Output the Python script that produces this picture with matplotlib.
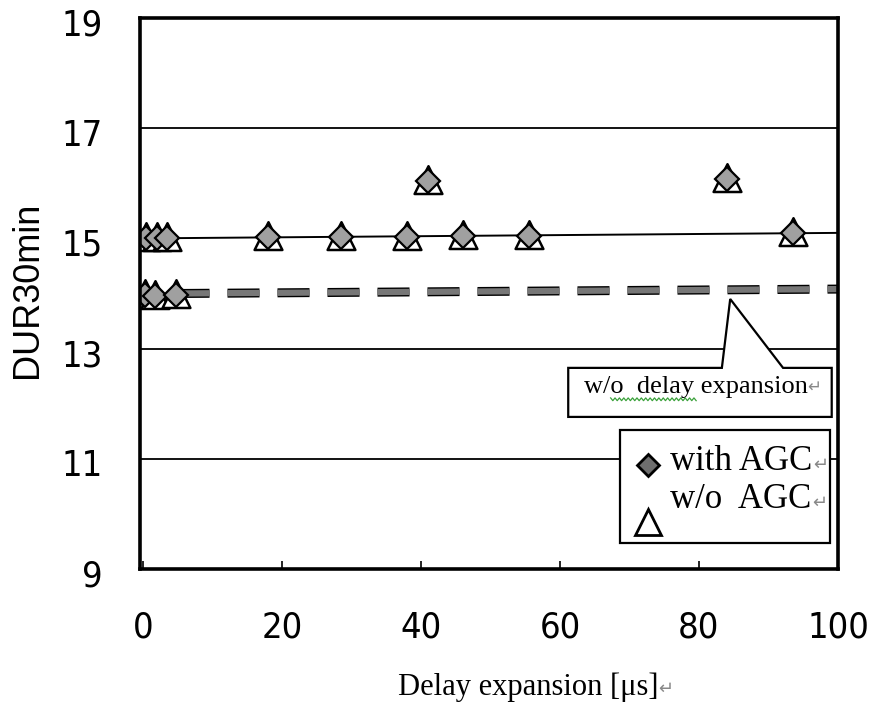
import matplotlib
matplotlib.use("Agg")
import matplotlib.pyplot as plt
import matplotlib.patheffects as pe
import matplotlib.transforms as mtransforms
from matplotlib.patches import Polygon, Rectangle
from matplotlib.path import Path
import numpy as np

# Delay expansion [us] and DUR30min values
delay_agc = [0.5, 2.0, 3.5, 18.0, 28.5, 38.0, 41.0, 46.0, 55.5, 84.0, 93.5]
dur_agc = [15.0, 15.0, 15.0, 15.02, 15.02, 15.03, 16.05, 15.04, 15.05, 16.08, 15.1]
delay_noagc = [0.5, 2.0, 3.5, 18.0, 28.5, 38.0, 41.0, 46.0, 55.5, 84.0, 93.5]
dur_noagc = [15.0, 15.0, 15.0, 15.02, 15.02, 15.03, 16.05, 15.04, 15.05, 16.08, 15.1]

# reference condition without delay expansion
delay_ref = [0.3, 1.8, 4.8]
dur_ref = [13.97, 13.95, 13.97]
ref_line_x = [5.0, 100.0]
ref_line_y = [14.0, 14.08]

# trend of the AGC series
trend_x = [0.0, 100.0]
trend_y = [15.0, 15.1]

xticks = [0, 20, 40, 60, 80, 100]
yticks = [9, 11, 13, 15, 17, 19]
grid_y = [11, 13, 17]

SANS = ["DejaVu Sans"]
SERIF = ["Liberation Serif", "DejaVu Serif", "DejaVu Sans"]

# triangle marker whose apex sits a little higher than a centred one
tri_marker = Path([(0, 1.1), (-1, -0.9), (1, -0.9), (0, 1.1)],
                  [Path.MOVETO, Path.LINETO, Path.LINETO, Path.CLOSEPOLY])

fig = plt.figure(figsize=(8.77, 7.05), dpi=100)
ax = fig.add_axes([0.1596, 0.1929, 0.9555 - 0.1596, 0.9745 - 0.1929])
ax.set_xlim(-0.4, 99.3)
ax.set_ylim(9, 19)

for g in grid_y:
    ax.axhline(g, color="black", lw=1.3, zorder=1)

ax.plot(trend_x, trend_y, color="black", lw=1.4, zorder=2)

ax.plot(ref_line_x, ref_line_y, color="#777777", lw=4.5, dashes=(32 / 4.5 * 0.72, 18 / 4.5 * 0.72),
        solid_capstyle="butt", zorder=2,
        path_effects=[pe.Stroke(linewidth=6.5, foreground="black"), pe.Normal()])

tri_kw = dict(marker=tri_marker, ms=22, mfc="white", mec="black", mew=1.8, ls="none", zorder=4)
dia_kw = dict(marker="D", ms=12, mfc="#a0a0a0", mec="black", mew=1.6, ls="none", zorder=5)

ax.plot(delay_noagc, dur_noagc, **tri_kw)
ax.plot(delay_agc, dur_agc, **dia_kw)
ax.plot(delay_ref, dur_ref, **tri_kw)
ax.plot(delay_ref, dur_ref, **dia_kw)

# callout for the reference line
call = Polygon([(61.2, 12.65), (83.3, 12.65), (84.5, 13.9), (92.1, 12.65), (99.1, 12.65),
                (99.1, 11.76), (61.2, 11.76)], closed=True, facecolor="white",
               edgecolor="black", lw=1.6, zorder=6)
ax.add_patch(call)
t1 = ax.text(63.4, 12.3, "w/o  delay expansion", family=SERIF, fontsize=19,
             ha="left", va="center", zorder=7)
ax.annotate("\u21b5", xy=(1, 0.1), xycoords=t1, ha="left", va="bottom", fontsize=12,
            color="#888888", family=["DejaVu Sans"], zorder=7)
# spell-check squiggle under "w/o  delay"
sq_x = np.linspace(67.3, 79.6, 40)
sq_y = 12.08 + 0.025 * np.where(np.arange(40) % 2 == 0, 1, -1)
ax.plot(sq_x, sq_y, color="#3aa13a", lw=0.9, zorder=7)

# legend box
ax.add_patch(Rectangle((68.6, 9.47), 98.8 - 68.6, 11.52 - 9.47, facecolor="white",
                       edgecolor="black", lw=1.6, zorder=6))
ax.plot([72.7], [10.89], marker="D", ms=11.5, mfc="#6e6e6e", mec="black", mew=2, zorder=7)
ax.plot([72.7], [9.86], marker="^", ms=19, mfc="white", mec="black", mew=2, zorder=7)
t2 = ax.text(75.9, 10.95, "with AGC", family=SERIF, fontsize=25, ha="left", va="center", zorder=7)
t3 = ax.text(75.9, 10.27, "w/o  AGC", family=SERIF, fontsize=25, ha="left", va="center", zorder=7)
for t in (t2, t3):
    ax.annotate("\u21b5", xy=(1, 0.12), xycoords=t, ha="left", va="bottom", fontsize=13,
                color="#888888", family=["DejaVu Sans"], zorder=7)

for s in ax.spines.values():
    s.set_linewidth(2.6)
    s.set_zorder(8)

ax.set_xticks(xticks)
ax.set_yticks(yticks)
ax.tick_params(axis="x", direction="in", length=6, width=1.2, pad=30)
ax.tick_params(axis="y", length=0, pad=27)
ax.set_xticklabels([str(v) for v in xticks], family=SANS, fontsize=26, fontstretch="condensed")
ax.set_yticklabels([str(v) for v in yticks], family=SANS, fontsize=26, fontstretch="condensed")
shift = mtransforms.ScaledTranslation(0, -4 / 100, fig.dpi_scale_trans)
for lbl in ax.get_yticklabels():
    lbl.set_transform(lbl.get_transform() + shift)

fig.text(28 / 877, 1 - 290 / 705, "DUR30min", rotation=90, ha="center", va="center",
         family=["Liberation Sans", "DejaVu Sans"], fontsize=26)
tx = fig.text(398 / 877, 1 - 687 / 705, "Delay expansion [\u03bcs]", ha="left", va="center",
              family=SERIF, fontsize=22)
ax.annotate("\u21b5", xy=(1, 0.12), xycoords=tx, ha="left", va="bottom", fontsize=13,
            color="#888888", family=["DejaVu Sans"])

fig.savefig("out.png", dpi=100)
